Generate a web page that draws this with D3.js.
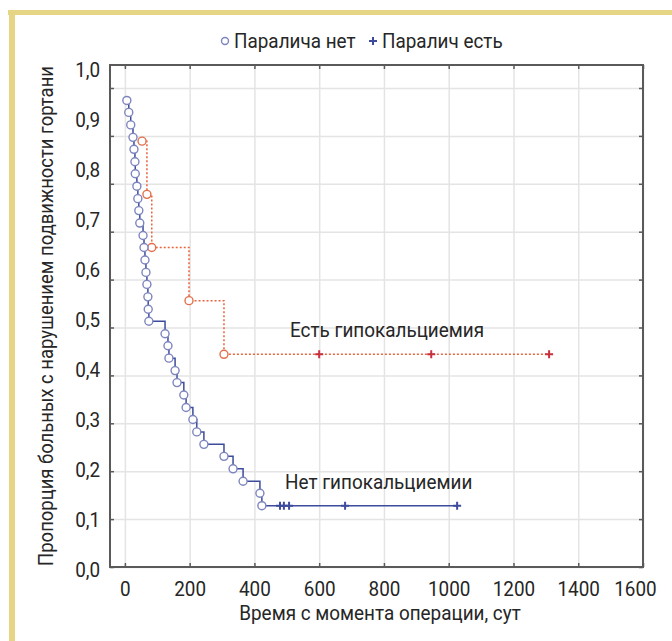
<!DOCTYPE html>
<html>
<head>
<meta charset="utf-8">
<script src="https://cdn.jsdelivr.net/npm/d3@7"></script>
<style>
  body { margin: 0; background: #fff; }
  svg text { font-family: Roboto, "Liberation Sans", sans-serif; fill: #262626; }
</style>
</head>
<body>
<div id="chart"></div>
<script>
const width = 672
const height = 641

// x ticks / y ticks
const xTicks = [0, 200, 400, 600, 800, 1000, 1200, 1400, 1600]
const yTicks = [0, 0.1, 0.2, 0.3, 0.4, 0.5, 0.6, 0.7, 0.8, 0.9, 1.0]
const yTickLabels = ["0,0", "0,1", "0,2", "0,3", "0,4", "0,5", "0,6", "0,7", "0,8", "0,9", "1,0"]

// "Нет гипокальциемии" - events (circles) and censored (+)
const noCalcTimes = [6, 12, 18, 25, 28, 31, 32, 37, 40, 43, 46, 56, 59, 62, 65, 68, 71, 72, 74,
    124, 133, 136, 155, 161, 182, 189, 210, 222, 244, 306, 334, 365, 417, 423]
const noCalcSurv = [0.974, 0.949, 0.923, 0.897, 0.872, 0.846, 0.821, 0.795, 0.769, 0.744, 0.718,
    0.692, 0.667, 0.641, 0.615, 0.590, 0.564, 0.538, 0.513, 0.487, 0.462, 0.436, 0.410, 0.385,
    0.359, 0.333, 0.308, 0.282, 0.256, 0.231, 0.205, 0.179, 0.154, 0.128]
const noCalcCensored = [479, 491, 507, 680, 1026]

// "Есть гипокальциемия"
const calcTimes = [53, 68, 83, 198, 306]
const calcSurv = [0.889, 0.778, 0.667, 0.556, 0.444]
const calcCensored = [600, 946, 1310]

const legendLabels = ["Паралича нет", "Паралич есть"]

const colors = {
    blueLine: '#3d4b9c',
    blueCircle: '#7d85be',
    redLine: '#e8643c',
    redCircle: '#e0704c',
    redPlus: '#c8303c',
    grid: '#e4e4e4',
    frame: '#5a5a5a',
    yellow: '#e6d584'
}

const FS = 21   // font size
const SX = 0.9  // condensed look

const x = d3.scaleLinear().domain([-46, 1600]).range([110, 643])
const y = d3.scaleLinear().domain([0, 1.048]).range([567, 65])
const yLab = d3.scaleLinear().domain([0, 1]).range([570, 70])

const svg = d3.select("#chart")
    .append("svg")
    .attr("width", width)
    .attr("height", height)

const addText = (tx, ty, str, anchor, extra = "") => svg.append("text")
    .attr("transform", `translate(${tx},${ty}) ${extra} scale(${SX},1)`)
    .attr("text-anchor", anchor)
    .attr("dominant-baseline", "central")
    .attr("font-size", FS)
    .text(str)

// yellow frame
svg.append("rect").attr("x", 8).attr("y", 10).attr("width", width - 8).attr("height", 5).attr("fill", colors.yellow)
svg.append("rect").attr("x", 9).attr("y", 10).attr("width", 6).attr("height", height - 10).attr("fill", colors.yellow)

// grid
svg.append("g")
    .attr("transform", "translate(0,567)")
    .call(d3.axisBottom(x).tickValues(xTicks).tickSize(-502).tickFormat(""))
    .call(g => g.select(".domain").remove())
    .call(g => g.selectAll("line").attr("stroke", colors.grid).attr("stroke-width", 1.5))

svg.append("g")
    .attr("transform", "translate(110,0)")
    .call(d3.axisLeft(y).tickValues(yTicks).tickSize(-533).tickFormat(""))
    .call(g => g.select(".domain").remove())
    .call(g => g.selectAll("line").attr("stroke", colors.grid).attr("stroke-width", 1.5))

// frame ticks (inside)
const tickStyle = g => {
    g.select(".domain").remove()
    g.selectAll("line").attr("stroke", colors.frame).attr("stroke-width", 1.5)
}
const labelStyle = g => g.selectAll("text")
    .attr("font-size", FS)
    .attr("fill", "#262626")
    .attr("font-family", "Roboto, sans-serif")
    .attr("transform", `scale(${SX},1)`)

svg.append("g").attr("transform", "translate(0,567)")
    .call(d3.axisBottom(x).tickValues(xTicks).tickSize(-4).tickPadding(14).tickFormat(d3.format("d")))
    .call(tickStyle)
    .call(labelStyle)
    .call(g => g.selectAll(".tick:last-of-type text").attr("x", -9))
svg.append("g").attr("transform", "translate(0,65)")
    .call(d3.axisTop(x).tickValues(xTicks).tickSize(-4).tickFormat(""))
    .call(tickStyle)
svg.append("g").attr("transform", "translate(110,0)")
    .call(d3.axisLeft(y).tickValues(yTicks).tickSize(-4).tickFormat(""))
    .call(tickStyle)
svg.append("g").attr("transform", "translate(643,0)")
    .call(d3.axisRight(y).tickValues(yTicks).tickSize(-4).tickFormat(""))
    .call(tickStyle)

// y labels
svg.append("g").attr("transform", "translate(110,0)")
    .call(d3.axisLeft(yLab).tickValues(yTicks).tickSize(0).tickPadding(11)
        .tickFormat((d, i) => yTickLabels[i]))
    .call(g => g.select(".domain").remove())
    .call(labelStyle)

// plot frame
svg.append("rect")
    .attr("x", 110).attr("y", 65)
    .attr("width", 533).attr("height", 502)
    .attr("fill", "none")
    .attr("stroke", colors.frame)
    .attr("stroke-width", 2)

const line = d3.line()
    .x(d => x(d[0]))
    .y(d => y(d[1]))
    .curve(d3.curveStepAfter)

const plusPath = (cx, cy, s) => `M${cx - s},${cy}H${cx + s}M${cx},${cy - s}V${cy + s}`

// red curve
const redPts = calcTimes.map((t, i) => [t, calcSurv[i]])
redPts.push([d3.max(calcCensored), calcSurv[calcSurv.length - 1]])
svg.append("path")
    .attr("d", line(redPts))
    .attr("fill", "none")
    .attr("stroke", colors.redLine)
    .attr("stroke-width", 1.5)
    .attr("stroke-dasharray", "2,2")

svg.selectAll(".red-circle")
    .data(calcTimes)
    .enter()
    .append("circle")
    .attr("cx", d => x(d))
    .attr("cy", (d, i) => y(calcSurv[i]))
    .attr("r", 4)
    .attr("fill", "#fff")
    .attr("stroke", colors.redCircle)
    .attr("stroke-width", 1.4)

svg.selectAll(".red-plus")
    .data(calcCensored)
    .enter()
    .append("path")
    .attr("d", d => plusPath(x(d), y(calcSurv[calcSurv.length - 1]), 4))
    .attr("stroke", colors.redPlus)
    .attr("stroke-width", 2)

// blue curve
const bluePts = noCalcTimes.map((t, i) => [t, noCalcSurv[i]])
bluePts.push([d3.max(noCalcCensored), noCalcSurv[noCalcSurv.length - 1]])
svg.append("path")
    .attr("d", line(bluePts))
    .attr("fill", "none")
    .attr("stroke", colors.blueLine)
    .attr("stroke-width", 1.5)

svg.selectAll(".blue-circle")
    .data(noCalcTimes)
    .enter()
    .append("circle")
    .attr("cx", d => x(d))
    .attr("cy", (d, i) => y(noCalcSurv[i]))
    .attr("r", 4)
    .attr("fill", "#fff")
    .attr("stroke", colors.blueCircle)
    .attr("stroke-width", 1.4)

svg.selectAll(".blue-plus")
    .data(noCalcCensored)
    .enter()
    .append("path")
    .attr("d", d => plusPath(x(d), y(noCalcSurv[noCalcSurv.length - 1]), 4))
    .attr("stroke", colors.blueLine)
    .attr("stroke-width", 2)

// annotations
addText(290, 330, "Есть гипокальциемия", "start")
addText(285, 482, "Нет гипокальциемии", "start")

// legend
svg.append("circle")
    .attr("cx", 225).attr("cy", 41).attr("r", 3.5)
    .attr("fill", "#fff").attr("stroke", colors.blueCircle).attr("stroke-width", 1.4)
addText(234, 41, legendLabels[0], "start")
svg.append("path")
    .attr("d", plusPath(373, 41, 4))
    .attr("stroke", colors.blueLine)
    .attr("stroke-width", 2)
addText(382, 41, legendLabels[1], "start")

// axis titles
addText(380, 613, "Время с момента операции, сут", "middle")
svg.append("text")
    .attr("transform", `translate(46,316) rotate(-90) scale(0.88,1)`)
    .attr("text-anchor", "middle")
    .attr("dominant-baseline", "central")
    .attr("font-size", FS)
    .text("Пропорция больных с нарушением подвижности гортани")
</script>
</body>
</html>
